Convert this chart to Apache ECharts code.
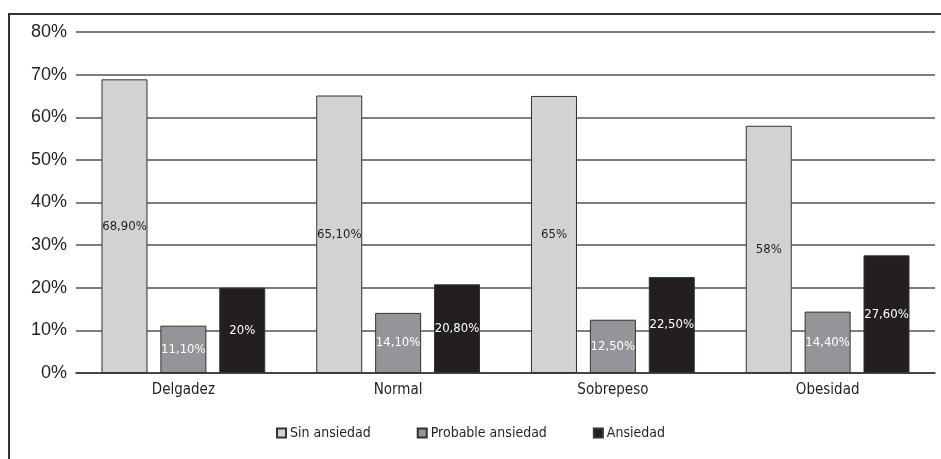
<!DOCTYPE html>
<html>
<head>
<meta charset="utf-8">
<script src="https://cdn.jsdelivr.net/npm/echarts@6/dist/echarts.min.js"></script>
<style>
  html, body { margin: 0; padding: 0; background: #fff; }
  #chart { width: 941px; height: 459px; }
</style>
</head>
<body>
<div id="chart"></div>
<script>
// 类别与数据
const categories = ['Delgadez', 'Normal', 'Sobrepeso', 'Obesidad'];
const seriesNames = ['Sin ansiedad', 'Probable ansiedad', 'Ansiedad'];
const sinAnsiedad = [68.9, 65.1, 65, 58];
const probableAnsiedad = [11.1, 14.1, 12.5, 14.4];
const ansiedad = [20, 20.8, 22.5, 27.6];
const yTicks = [0, 10, 20, 30, 40, 50, 60, 70, 80];

const narrowFont = '"Liberation Sans Narrow", "DejaVu Sans Condensed", "Liberation Sans", sans-serif';

// 标签格式: 整数显示 "20%", 小数显示 "68,90%"
function fmt(v) {
    if (Number.isInteger(v)) return v + '%';
    return v.toFixed(2).replace('.', ',') + '%';
}

function makeSeries(name, data, color, labelColor) {
    return {
        name: name,
        type: 'bar',
        data: data,
        barWidth: 46,
        barGap: '28%',
        itemStyle: {
            color: color,
            borderColor: '#333',
            borderWidth: 1
        },
        label: {
            show: true,
            position: 'inside',
            color: labelColor,
            fontFamily: narrowFont,
            fontSize: 13,
            formatter: p => fmt(p.value)
        }
    };
}

const chart = echarts.init(document.getElementById('chart'));

const option = {
    animation: false,
    backgroundColor: '#fff',
    grid: {
        left: 76,
        right: 6,
        top: 32,
        bottom: 86
    },
    legend: {
        data: seriesNames,
        bottom: 14,
        left: 'center',
        icon: 'rect',
        itemWidth: 9,
        itemHeight: 9,
        itemGap: 46,
        textStyle: {
            fontFamily: narrowFont,
            fontSize: 14,
            color: '#231f20',
            padding: [0, 0, 0, -1]
        }
    },
    xAxis: {
        type: 'category',
        data: categories,
        axisLine: { lineStyle: { color: '#333', width: 1.5 } },
        axisTick: { show: false },
        axisLabel: {
            fontFamily: narrowFont,
            fontSize: 15,
            color: '#231f20',
            margin: 10
        }
    },
    yAxis: {
        type: 'value',
        min: 0,
        max: 80,
        interval: 10,
        axisLine: { show: false },
        axisTick: { show: false },
        splitLine: { lineStyle: { color: '#555', width: 1.5 } },
        axisLabel: {
            fontFamily: '"Liberation Sans", Arial, sans-serif',
            fontSize: 18,
            color: '#231f20',
            margin: 9,
            formatter: v => yTicks.includes(v) ? v + '%' : ''
        }
    },
    // 外框: 只露出上边和左边
    graphic: [
        {
            type: 'polyline',
            shape: { points: [[9, 470], [9, 14], [950, 14]] },
            style: { stroke: '#333', lineWidth: 2, fill: null },
            silent: true
        }
    ],
    series: [
        makeSeries(seriesNames[0], sinAnsiedad, '#d1d2d4', '#231f20'),
        makeSeries(seriesNames[1], probableAnsiedad, '#939598', '#fff'),
        makeSeries(seriesNames[2], ansiedad, '#231f20', '#fff')
    ]
};

chart.setOption(option);
</script>
</body>
</html>
